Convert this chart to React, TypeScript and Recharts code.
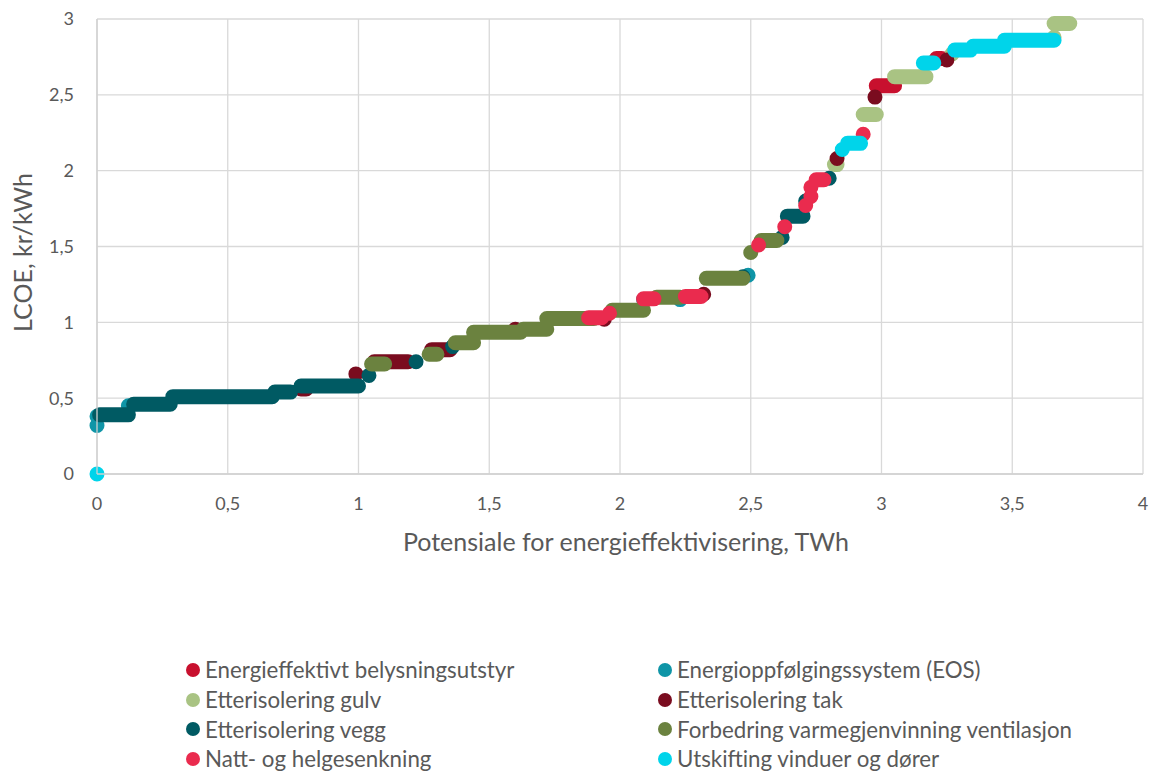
import React from 'react';
import { ComposedChart, Line, XAxis, YAxis, CartesianGrid, Label } from 'recharts';

// Each entry: [x start (TWh), x end (TWh), LCOE (kr/kWh)] - a run of overlapping markers
const belysning: number[][] = [
  [2.98, 3.05, 2.56],
  [3.21, 3.23, 2.74],
];
const eos: number[][] = [
  [0, 0, 0.32],
  [0, 0, 0.38],
  [0.12, 0.12, 0.45],
  [2.09, 2.09, 1.15],
  [2.23, 2.23, 1.15],
  [2.49, 2.49, 1.31],
];
const gulv: number[][] = [
  [2.82, 2.83, 2.04],
  [2.93, 2.98, 2.37],
  [3.05, 3.17, 2.62],
  [3.27, 3.27, 2.77],
  [3.66, 3.66, 2.88],
  [3.66, 3.72, 2.97],
];
const tak: number[][] = [
  [0.78, 0.8, 0.56],
  [0.99, 0.99, 0.66],
  [1.06, 1.19, 0.74],
  [1.28, 1.35, 0.82],
  [1.6, 1.6, 0.955],
  [1.94, 1.94, 1.02],
  [2.32, 2.32, 1.185],
  [2.83, 2.83, 2.08],
  [2.975, 2.975, 2.485],
  [3.25, 3.25, 2.73],
];
const vegg: number[][] = [
  [0.01, 0.12, 0.39],
  [0.14, 0.28, 0.46],
  [0.29, 0.67, 0.51],
  [0.68, 0.74, 0.54],
  [0.78, 1.0, 0.58],
  [1.04, 1.04, 0.65],
  [1.22, 1.22, 0.74],
  [1.36, 1.36, 0.84],
  [2.47, 2.47, 1.3],
  [2.62, 2.62, 1.56],
  [2.64, 2.7, 1.7],
  [2.71, 2.71, 1.8],
  [2.8, 2.8, 1.95],
];
const ventilasjon: number[][] = [
  [1.05, 1.1, 0.725],
  [1.27, 1.3, 0.79],
  [1.37, 1.44, 0.865],
  [1.44, 1.62, 0.935],
  [1.63, 1.72, 0.955],
  [1.72, 1.9, 1.025],
  [1.97, 2.09, 1.08],
  [2.14, 2.23, 1.165],
  [2.33, 2.47, 1.29],
  [2.5, 2.5, 1.46],
  [2.54, 2.6, 1.54],
];
const natt: number[][] = [
  [1.88, 1.93, 1.03],
  [1.96, 1.96, 1.06],
  [2.09, 2.13, 1.155],
  [2.25, 2.31, 1.17],
  [2.53, 2.53, 1.51],
  [2.63, 2.63, 1.63],
  [2.71, 2.71, 1.77],
  [2.73, 2.73, 1.83],
  [2.73, 2.73, 1.89],
  [2.75, 2.78, 1.94],
  [2.93, 2.93, 2.24],
];
const vinduer: number[][] = [
  [0, 0, 0],
  [2.85, 2.85, 2.14],
  [2.87, 2.92, 2.18],
  [3.16, 3.2, 2.71],
  [3.28, 3.34, 2.795],
  [3.35, 3.47, 2.82],
  [3.47, 3.66, 2.86],
];

const seriesNames = [
  'Energieffektivt belysningsutstyr',
  'Energioppfølgingssystem (EOS)',
  'Etterisolering gulv',
  'Etterisolering tak',
  'Etterisolering vegg',
  'Forbedring varmegjenvinning ventilasjon',
  'Natt- og helgesenkning',
  'Utskifting vinduer og dører',
];
const seriesColors = ['#c8102e', '#0f95a7', '#a9c383', '#7a0c1f', '#005a63', '#6b823f', '#ea2b4e', '#00d4ea'];
const seriesData = [belysning, eos, gulv, tak, vegg, ventilasjon, natt, vinduer];

const xTicks = [0, 0.5, 1, 1.5, 2, 2.5, 3, 3.5, 4];
const yTicks = [0, 0.5, 1, 1.5, 2, 2.5, 3];

const toPoints = (segs: number[][]) => {
  const out: { x: number; y: number | null }[] = [];
  segs.forEach(([x0, x1, y], i) => {
    if (i > 0) out.push({ x: x0, y: null });
    out.push({ x: x0, y });
    out.push({ x: x1, y });
  });
  return out;
};

const fmt = (v: number) => String(v).replace('.', ',');
const FONT = 'Lato, "Open Sans", sans-serif';
const TEXT = '#595959';

const YLabel = (props: any) => {
  const vb = props.viewBox || { x: 0, y: 19, width: 97, height: 455 };
  return (
    <text
      x={0}
      y={0}
      transform={`translate(${vb.x + 22},${vb.y + vb.height / 2 + 6}) rotate(-90)`}
      textAnchor="middle"
      dominantBaseline="central"
      fill={TEXT}
      fontSize={25}
      fontFamily={FONT}
    >
      LCOE, kr/kWh
    </text>
  );
};

export default function App() {
  return (
    <div style={{ position: 'absolute', left: 0, top: 0, width: 1158, height: 772, background: '#fff' }}>
      <ComposedChart width={1158} height={772} margin={{ top: 19, right: 15, left: 0, bottom: 221 }}>
        <CartesianGrid stroke="#d9d9d9" strokeWidth={1.3} />
        <XAxis
          type="number"
          dataKey="x"
          domain={[0, 4]}
          ticks={xTicks}
          tickFormatter={fmt}
          tickLine={false}
          tickSize={0}
          tickMargin={23}
          height={77}
          axisLine={{ stroke: '#d0d0d0', strokeWidth: 1.3 }}
          tick={{ fill: TEXT, fontSize: 18, fontFamily: FONT }}
        >
          <Label
            value="Potensiale for energieffektivisering, TWh"
            position="insideBottom"
            offset={0}
            dx={6}
            fill={TEXT}
            fontSize={25}
            fontFamily={FONT}
          />
        </XAxis>
        <YAxis
          type="number"
          domain={[0, 3]}
          ticks={yTicks}
          tickFormatter={fmt}
          tickLine={false}
          tickSize={0}
          tickMargin={23}
          width={97}
          axisLine={{ stroke: '#d0d0d0', strokeWidth: 1.3 }}
          tick={{ fill: TEXT, fontSize: 18, fontFamily: FONT }}
          label={<YLabel />}
        />
        {seriesData.map((segs, i) => (
          <Line
            key={seriesNames[i]}
            name={seriesNames[i]}
            data={toPoints(segs)}
            dataKey="y"
            type="linear"
            stroke={seriesColors[i]}
            strokeWidth={15}
            strokeLinecap="round"
            strokeLinejoin="round"
            dot={false}
            activeDot={false}
            connectNulls={false}
            isAnimationActive={false}
          />
        ))}
      </ComposedChart>
      <div
        style={{
          position: 'absolute',
          left: 0,
          top: 655,
          width: 1158,
          fontFamily: FONT,
          fontSize: 22.3,
          color: TEXT,
        }}
      >
        {[0, 1, 2, 3].map((row) => (
          <div key={row} style={{ position: 'relative', height: 29.7 }}>
            {[0, 1].map((col) => {
              const idx = row * 2 + col;
              return (
                <div
                  key={col}
                  style={{
                    position: 'absolute',
                    left: col === 0 ? 186 : 658,
                    top: 0,
                    height: 29.7,
                    display: 'flex',
                    alignItems: 'center',
                    whiteSpace: 'nowrap',
                  }}
                >
                  <span
                    style={{
                      display: 'inline-block',
                      width: 14,
                      height: 14,
                      borderRadius: '50%',
                      background: seriesColors[idx],
                      marginRight: 5,
                    }}
                  />
                  <span>{seriesNames[idx]}</span>
                </div>
              );
            })}
          </div>
        ))}
      </div>
    </div>
  );
}
